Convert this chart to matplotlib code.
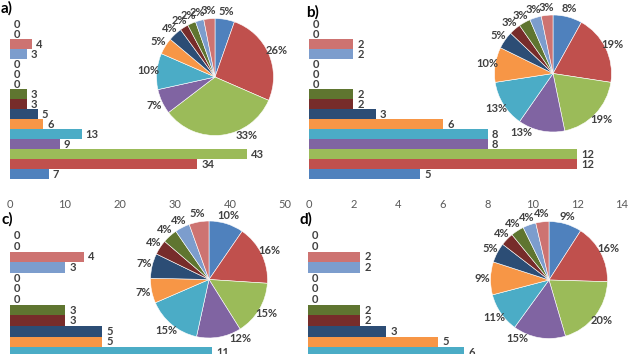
import math
import matplotlib
matplotlib.use("Agg")
import matplotlib.pyplot as plt

plt.rcParams['font.family'] = ['Lato', 'DejaVu Sans']

W, H = 634, 354
DPI = 100

# 16 categories, listed bottom -> top of the bar chart (= clockwise order in pie)
colors = ['#4F81BD', '#C0504D', '#9BBB59', '#8064A2', '#4BACC6', '#F79646',
          '#2C4D75', '#772C2A', '#5F7530', '#4D3B62', '#276A7C', '#B65708',
          '#7C9DCD', '#CD7371', '#AFC97A', '#9983B5']

a_vals = [7, 34, 43, 9, 13, 6, 5, 3, 3, 0, 0, 0, 3, 4, 0, 0]
b_vals = [5, 12, 12, 8, 8, 6, 3, 2, 2, 0, 0, 0, 2, 2, 0, 0]
c_vals = [7, 12, 11, 9, 11, 5, 5, 3, 3, 0, 0, 0, 3, 4, 0, 0]
d_vals = [5, 9, 11, 8, 6, 5, 3, 2, 2, 0, 0, 0, 2, 2, 0, 0]

a_ticks = [0, 10, 20, 30, 40, 50]
b_ticks = [0, 2, 4, 6, 8, 10, 12, 14]
c_ticks = [0, 2, 4, 6, 8, 10, 12, 14]
d_ticks = [0, 2, 4, 6, 8, 10, 12]

panel_labels = ['a)', 'b)', 'c)', 'd)']

fig = plt.figure(figsize=(W / DPI, H / DPI), dpi=DPI)
fig.patch.set_facecolor('white')


def rect(x0, y0, w, h):
    return [x0 / W, 1 - (y0 + h) / H, w / W, h / H]


def bar_panel(vals, ticks, x0, y0, w, h):
    ax = fig.add_axes(rect(x0, y0, w, h))
    pos = list(range(len(vals)))
    bars = ax.barh(pos, vals, height=1.0, color=colors, edgecolor='none')
    ax.bar_label(bars, labels=[str(v) for v in vals], padding=3,
                 fontsize=8, color='#404040', fontweight='bold')
    ax.set_xlim(ticks[0], ticks[-1])
    ax.set_ylim(-0.5, len(vals) - 0.5)
    ax.set_xticks(ticks)
    ax.set_yticks([])
    for s in ax.spines.values():
        s.set_visible(False)
    ax.tick_params(axis='x', length=0, pad=14, labelsize=8, labelcolor='#595959')
    ax.patch.set_alpha(0)
    return ax


def pie_panel(vals, cx, cy, r):
    ax = fig.add_axes(rect(cx - r, cy - r, 2 * r, 2 * r))
    nz = [(v, c) for v, c in zip(vals, colors) if v > 0]
    v = [p[0] for p in nz]
    c = [p[1] for p in nz]
    dist = 1.14
    wedges, _, autot = ax.pie(v, colors=c, startangle=90, counterclock=False,
                              autopct=lambda p: f"{p:.0f}%", pctdistance=dist,
                              wedgeprops=dict(edgecolor='white', linewidth=0.4),
                              textprops=dict(fontsize=8, color='#404040',
                                             fontweight='bold'))
    # best-fit style: labels near the bottom are pushed aside
    for wdg, t in zip(wedges, autot):
        mid = 0.5 * (wdg.theta1 + wdg.theta2)
        cw = (90 - mid) % 360
        if abs(cw - 180) < 28:
            cw = 180 + (28 if cw >= 180 else -28)
            ang = math.radians(cw)
            t.set_position((dist * math.sin(ang), dist * math.cos(ang)))
    ax.set_xlim(-1, 1)
    ax.set_ylim(-1, 1)
    ax.set_aspect('equal')
    ax.axis('off')
    return ax


# top row
bar_panel(a_vals, a_ticks, 10, 19.3, 275, 160)
bar_panel(b_vals, b_ticks, 308.5, 19.3, 313.5, 160)
# bottom row (cut off by the figure edge)
bar_panel(c_vals, c_ticks, 10, 230.5, 14 * 18.4, 169.6)
bar_panel(d_vals, d_ticks, 308, 230.5, 312, 169.6)

pie_panel(a_vals, 215, 77, 58.5)
pie_panel(b_vals, 553, 73.5, 58.5)
pie_panel(c_vals, 209, 279.5, 58.5)
pie_panel(d_vals, 549, 280, 58.5)

label_pos = [(1, 8.5), (306, 12.5), (1, 219), (300, 219)]
for lab, (x, y) in zip(panel_labels, label_pos):
    fig.text(x / W, 1 - y / H, lab, fontsize=11, fontweight='bold',
             color='black', ha='left', va='center')

fig.savefig('out.png', dpi=DPI, facecolor='white')
